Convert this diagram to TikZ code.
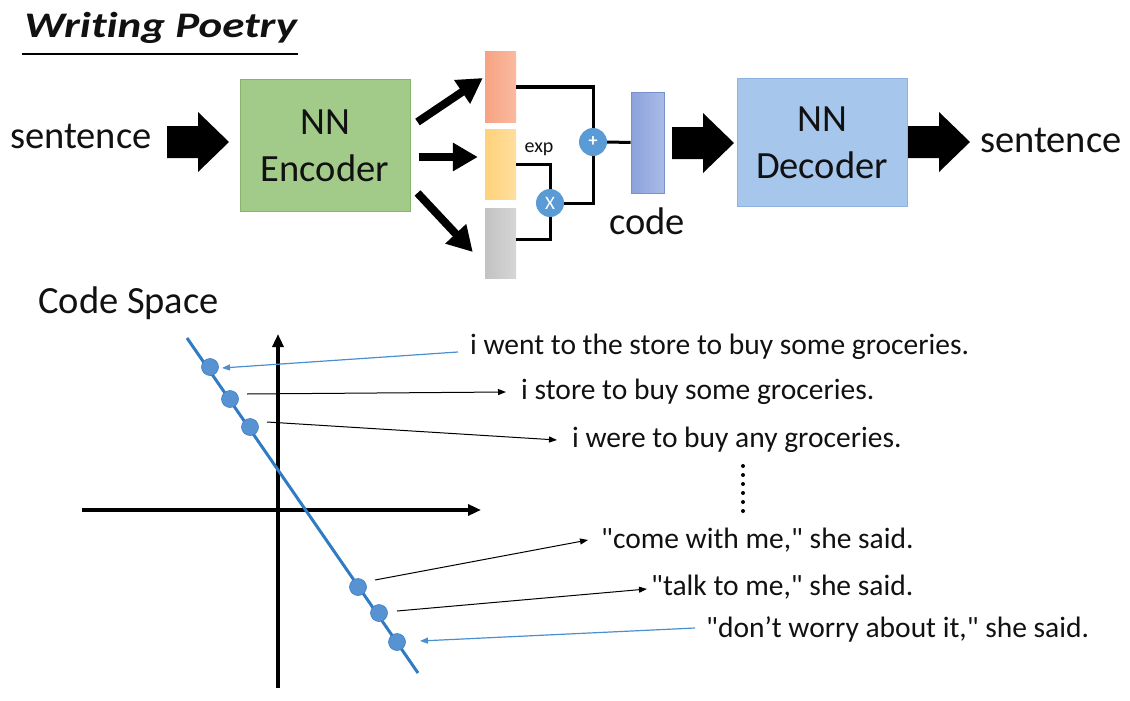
\documentclass[tikz,border=0pt]{standalone}
\usepackage{fontspec}
\setmainfont{Carlito}[Ligatures={TeXOff,NoCommon}]
\usetikzlibrary{arrows.meta,calc}
\definecolor{encfill}{HTML}{A2CB8A}
\definecolor{encdraw}{HTML}{86B56B}
\definecolor{decfill}{HTML}{A6C6EC}
\definecolor{decdraw}{HTML}{8FB3E0}
\definecolor{orA}{HTML}{F7A283}
\definecolor{orB}{HTML}{FBBA9F}
\definecolor{yeA}{HTML}{FFD27A}
\definecolor{yeB}{HTML}{FFDE9E}
\definecolor{grA}{HTML}{C2C2C2}
\definecolor{grB}{HTML}{D6D6D6}
\definecolor{coA}{HTML}{8BA2DA}
\definecolor{coB}{HTML}{A9BBE7}
\definecolor{codraw}{HTML}{7890CE}
\definecolor{opblue}{HTML}{5B9BD5}
\definecolor{lineblue}{HTML}{2F7BC4}
\definecolor{dotfill}{HTML}{5793D3}
\definecolor{dotdraw}{HTML}{3F7DC2}
\definecolor{arrblue}{HTML}{4A8FD0}
\definecolor{txt}{HTML}{111111}
\tikzset{
  bigtxt/.style={font=\fontsize{38.5}{46}\selectfont, inner sep=0pt, text=txt},
  senttxt/.style={font=\fontsize{29.5}{34}\selectfont, inner sep=0pt, anchor=base west, text=txt},
  box/.style={rectangle, inner sep=0pt, line width=1pt, align=center, text=txt, font=\fontsize{38.5}{47}\selectfont},
  bar/.style={rectangle, inner sep=0pt, minimum width=31pt, minimum height=70pt, shading angle=90},
  opcirc/.style={circle, fill=opblue, inner sep=0pt, minimum size=28pt, text=white},
  wire/.style={line width=3pt, black},
  fatarrow/.style={line width=8pt, black, -{Triangle[length=25pt,width=27pt]}},
  axis/.style={line width=3.5pt, black, -{Triangle[length=13pt,width=11pt]}},
  thinblack/.style={line width=1pt, black, -{Triangle[length=8pt,width=6pt]}},
  thinblue/.style={line width=1.2pt, arrblue, -{Triangle[length=8pt,width=6pt]}},
  codedot/.style={circle, fill=dotfill, draw=dotdraw, line width=0.6pt, inner sep=0pt, minimum size=17pt},
  blockarrow/.pic={\fill[black] (0,-16) -- (31,-16) -- (31,-30) -- (62,0) -- (31,30) -- (31,16) -- (0,16) -- cycle;}
}
\begin{document}
\begin{tikzpicture}[x=1pt,y=-1pt]
\useasboundingbox (0,0) rectangle (1130,701);
% title
\node[font=\fontsize{36}{40}\selectfont\bfseries\itshape, inner sep=0pt, anchor=base west, xscale=1.25, text=txt] (title) at (24,38) {Writing Poetry};
\draw[line width=2.2pt] ($(title.base west)+(-2,16)$) -- ($(title.base east)+(1,16)$);
% top row
\node[bigtxt, anchor=base west] (sin) at (10,148) {sentence};
\pic at (167,142) {blockarrow};
\node[box, fill=encfill, draw=encdraw, minimum width=170pt, minimum height=131pt] (enc) at (325,145.5) {NN\\Encoder};
\node[bar, left color=orA, right color=orB] (mu) at (500.5,87) {};
\node[bar, left color=yeA, right color=yeB] (sig) at (500.5,164.5) {};
\node[bar, left color=grA, right color=grB] (eps) at (500.5,243) {};
\draw[fatarrow] ([shift={(7,-23.5)}]enc.east) -- ([shift={(-2,-9)}]mu.west);
\draw[fatarrow] ([shift={(8,11.5)}]enc.east) -- ([shift={(-7,-7.5)}]sig.west);
\draw[fatarrow] ([shift={(7,47.5)}]enc.east) -- ([shift={(-12,9)}]eps.west);
\node[opcirc, font=\fontsize{18}{18}\selectfont\bfseries] (plus) at (593,142) {+};
\node[opcirc, font=\fontsize{19}{19}\selectfont] (times) at (550,203) {X};
\node[font=\fontsize{20}{20}\selectfont, inner sep=0pt, anchor=base, text=txt] (exp) at (539,152) {exp};
\node[rectangle, inner sep=0pt, minimum width=33pt, minimum height=101pt, left color=coA, right color=coB, shading angle=90, draw=codraw, line width=0.8pt] (code) at (647.5,142.5) {};
\draw[wire] (mu.east) -| (plus.north);
\draw[wire] (sig.east) -| (times.north);
\draw[wire] ([yshift=4pt]eps.east) -| (times.south);
\draw[wire] (times.east) -| (plus.south);
\draw[wire] (plus.east) -- (code.west);
\node[bigtxt, anchor=base] (codelbl) at (647,234) {code};
\pic at (672,143) {blockarrow};
\node[box, fill=decfill, draw=decdraw, minimum width=170pt, minimum height=127pt] (dec) at (822,142.5) {NN\\Decoder};
\pic at (908,142) {blockarrow};
\node[bigtxt, anchor=base west] (sout) at (980,152) {sentence};
% code space
\node[bigtxt, anchor=base west] (cs) at (38,313) {Code Space};
\coordinate (yb) at (278,688);
\coordinate (yt) at (278,334);
\coordinate (xl) at (82,510);
\coordinate (xr) at (481,510);
\draw[axis] (yb) -- (yt);
\draw[axis] (xl) -- (xr);
\coordinate (la) at (187,338);
\coordinate (lb) at (418,673);
\draw[line width=3pt, lineblue] (la) -- (lb);
\node[codedot] (d1) at (210,367) {};
\node[codedot] (d2) at (230,399) {};
\node[codedot] (d3) at (250,427) {};
\node[codedot] (d4) at (358,587) {};
\node[codedot] (d5) at (379,613) {};
\node[codedot] (d6) at (397,642) {};
% sentences
\node[senttxt] (s1) at (470,354) {i went to the store to buy some groceries.};
\node[senttxt] (s2) at (521,399) {i store to buy some groceries.};
\node[senttxt] (s3) at (572,447) {i were to buy any groceries.};
\node[senttxt] (s4) at (601,548) {"come with me," she said.};
\node[senttxt] (s5) at (651,595) {"talk to me," she said.};
\node[senttxt] (s6) at (706,637) {"don’t worry about it," she said.};
\foreach \k in {0,...,5} \fill (743,466+9*\k) circle (2pt);
\draw[thinblue] ([shift={(-12,-2)}]s1.base west) -- ([shift={(12,1)}]d1.center);
\draw[thinblack] ([shift={(17,-5)}]d2.center) -- ([shift={(-15,-7)}]s2.base west);
\draw[thinblack] ([shift={(17,-5)}]d3.center) -- ([shift={(-15,-7)}]s3.base west);
\draw[thinblack] ([shift={(17,-7)}]d4.center) -- ([shift={(-13,-8)}]s4.base west);
\draw[thinblack] ([shift={(18,-2)}]d5.center) -- ([shift={(-4,-6)}]s5.base west);
\draw[thinblue] ([shift={(-11,-9)}]s6.base west) -- ([shift={(23,-1)}]d6.center);
\end{tikzpicture}
\end{document}
